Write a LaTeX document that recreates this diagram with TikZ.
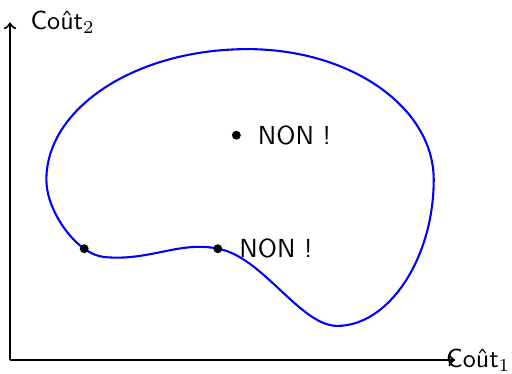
\documentclass[tikz,border=0pt]{standalone}
\usepackage{tikz}
\usetikzlibrary{positioning}

\begin{document}
\begin{tikzpicture}[
        dotMark/.style={circle, fill=black, inner sep=0pt, minimum size=0.12cm},
        nonLabel/.style={font=\sffamily},
        axisLabel/.style={font=\sffamily},
        axisLine/.style={->, thick},
        front/.style={draw=blue, thick}
    ]
    \useasboundingbox (-0.135,-0.175) rectangle (6.765,4.852);

    % Axes
    \coordinate (O) at (0,0);
    \coordinate (xEnd) at (6.0,0);
    \coordinate (yEnd) at (0,4.55);
    \draw[axisLine] (O) -- (xEnd);
    \draw[axisLine] (O) -- (yEnd);
    \node[axisLabel] (xLabel) at (6.31,0) {Coût$_1$};
    \node[axisLabel] (yLabel) at (0.71,4.555) {Coût$_2$};

    % Ensemble realisable
    \coordinate (a) at (1.00,1.50);
    \coordinate (dip) at (1.45,1.38);
    \coordinate (b) at (2.80,1.50);
    \coordinate (bot) at (4.41,0.46);
    \coordinate (rgt) at (5.71,2.43);
    \coordinate (top) at (3.20,4.19);
    \coordinate (lft) at (0.49,2.43);
    \draw[front] (a) .. controls +(0.15,-0.105) and +(-0.2,0) .. (dip)
        .. controls +(0.5,0) and +(-0.45,0.1) .. (b)
        .. controls +(0.6,-0.1) and +(-0.5,0) .. (bot)
        .. controls +(0.7,0) and +(0,-1.05) .. (rgt)
        .. controls +(0,0.97) and +(1.40,0) .. (top)
        .. controls +(-1.50,0) and +(0,0.97) .. (lft)
        .. controls +(0,-0.35) and +(-0.25,0.175) .. (a) -- cycle;

    % Points
    \node[dotMark] (ptA) at (a) {};
    \node[dotMark] (ptB) at (b) {};
    \node[dotMark] (ptC) at (3.05,3.03) {};
    \node[nonLabel, right=0.1cm of ptB] (nonB) {NON~!};
    \node[nonLabel, right=0.1cm of ptC] (nonC) {NON~!};
\end{tikzpicture}
\end{document}
